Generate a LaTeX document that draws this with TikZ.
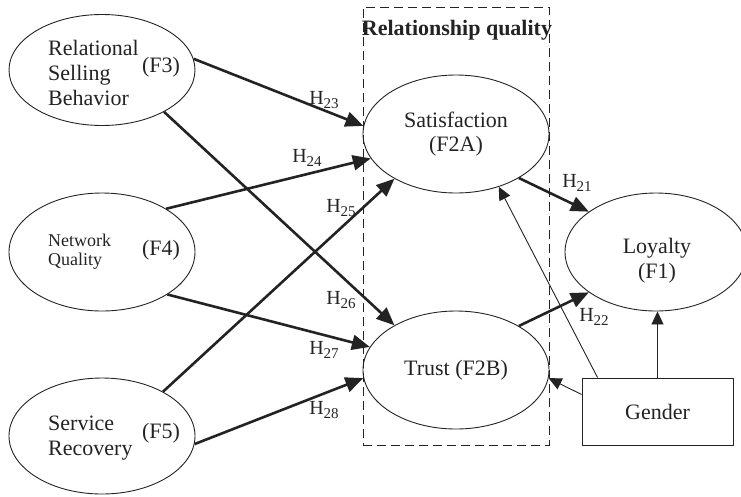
\documentclass[tikz,border=0pt]{standalone}
\usepackage{fontspec}
\setmainfont{Liberation Serif}
\usetikzlibrary{shapes.geometric,arrows.meta}
\definecolor{ink}{RGB}{35,35,35}
\newcommand\Hlab[1]{H\raisebox{-0.22em}{\fontsize{15}{15}\selectfont #1}}
\begin{document}
\begin{tikzpicture}[x=1pt,y=-1pt,
  ell/.style={ellipse,draw=ink,line width=0.9pt,minimum width=186pt,minimum height=118pt,inner sep=0pt,
    font=\fontsize{22}{24}\selectfont,text=ink,align=center},
  txt/.style={font=\fontsize{22}{25}\selectfont,text=ink,inner sep=0pt,align=left},
  small/.style={font=\fontsize{18}{19}\selectfont,text=ink,inner sep=0pt,align=left},
  hyp/.style={font=\fontsize{20}{22}\selectfont,text=ink,inner sep=0pt},
  thick arrow/.style={draw=ink,line width=2.6pt,-{Triangle[length=18pt,width=15pt]}},
  thin arrow/.style={draw=ink,line width=0.9pt,-{Triangle[length=13pt,width=12pt]}},
  box/.style={draw=ink,line width=0.9pt,minimum width=151pt,minimum height=67pt,inner sep=0pt,
    font=\fontsize{22}{24}\selectfont,text=ink},
  group/.style={draw=ink,dash pattern=on 9pt off 5pt,line width=0.9pt,inner sep=0pt}
]
\useasboundingbox (0,0) rectangle (741,496);

% dashed group
\node[group,minimum width=186pt,minimum height=438pt] (rq) at (456,226) {};
\node[font=\bfseries\fontsize{22}{24}\selectfont,text=ink,inner sep=0pt] (rqt) at (457,30) {Relationship quality};

% ellipses
\node[ell,minimum height=111pt] (f3) at (102,70) {};
\node[ell] (f4) at (102,252) {};
\node[ell,minimum height=116pt] (f5) at (102,436) {};
\node[ell] (sat) at (456,134) {Satisfaction\\(F2A)};
\node[ell] (tru) at (456,370) {Trust (F2B)};
\node[ell,minimum width=182pt] (loy) at (656,252) {};
\node[txt,align=center] (loyt) at (657,261) {Loyalty\\(F1)};
\node[box] (gen) at (657.5,411.5) {Gender};

% texts in left ellipses
\node[txt,anchor=west] (f3t) at (48,73) {Relational\\Selling\\Behavior};
\node[txt] (f3n) at (161,67) {(F3)};
\node[small,anchor=west] (f4t) at (48,252) {Network\\Quality};
\node[txt] (f4n) at (161,250) {(F4)};
\node[txt,anchor=west] (f5t) at (48,438) {Service\\Recovery};
\node[txt] (f5n) at (161,433) {(F5)};

% thick arrows
\draw[thick arrow] (f3.7) -- (sat.175);
\draw[thick arrow] (f4.34) -- (sat.196);
\draw[thick arrow] (f5.36) -- (sat.216);
\draw[thick arrow] (f3.-34.5) -- (tru.144.5);
\draw[thick arrow] (f4.-33.5) -- (tru.165);
\draw[thick arrow] (f5.-5.5) -- (tru.185);
\draw[thick arrow] (sat.-35) -- (loy.149);
\draw[thick arrow] (tru.35) -- (loy.211.5);

% thin arrows from gender
\draw[thin arrow] ([xshift=16pt]gen.north west) -- (sat.-51);
\draw[thin arrow] ([yshift=17pt]gen.west) -- (tru.-5);
\draw[thin arrow] (gen.north) -- (gen.north |- loy.south);

% hypothesis labels
\node[hyp] (h23) at (324,100) {\Hlab{23}};
\node[hyp] (h24) at (307,158) {\Hlab{24}};
\node[hyp] (h25) at (341,208) {\Hlab{25}};
\node[hyp] (h26) at (341,300) {\Hlab{26}};
\node[hyp] (h27) at (324,350) {\Hlab{27}};
\node[hyp] (h28) at (324,410) {\Hlab{28}};
\node[hyp] (h21) at (577,183) {\Hlab{21}};
\node[hyp] (h22) at (594,317) {\Hlab{22}};
\end{tikzpicture}
\end{document}
